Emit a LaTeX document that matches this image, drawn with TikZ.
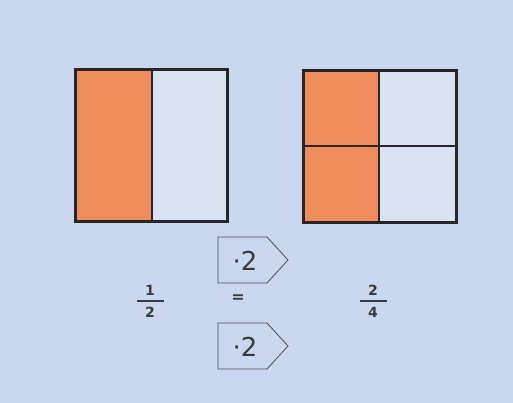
\documentclass[tikz,border=0pt]{standalone}
\usepackage{fontspec}
\setmainfont{DejaVu Sans}
\definecolor{bg}{HTML}{C9D8EE}
\definecolor{light}{HTML}{D8E2F2}
\definecolor{orng}{HTML}{EE8C5C}
\definecolor{frame}{HTML}{262626}
\definecolor{txt}{HTML}{3A3A3A}
\tikzset{
  sq/.style={draw=frame, line width=3pt},
  divider/.style={draw=frame, line width=1.2pt},
  digit/.style={inner sep=0pt, text=txt, font=\bfseries\fontsize{14}{14}\selectfont},
  opbox/.style={draw=black!70, line width=0.8pt, fill=bg},
  optext/.style={inner sep=0pt, text=txt, font=\fontsize{26}{26}\selectfont},
  fracbar/.style={draw=txt, line width=1.2pt}
}
\begin{document}
\begin{tikzpicture}[x=1pt,y=-1pt]
\useasboundingbox (0,0) rectangle (513,403);
\fill[bg] (0,0) rectangle (513,403);
% left square
\fill[light] (75,70) rectangle (227,221);
\fill[orng] (75,70) rectangle (152,221);
\draw[divider] (152,70) -- (152,221);
\draw[sq] (75,70) rectangle (227,221);
% right square
\fill[light] (303,71) rectangle (456,222);
\fill[orng] (303,71) rectangle (379,222);
\draw[divider] (379,71) -- (379,222);
\draw[divider] (303,146) -- (456,146);
\draw[sq] (303,71) rectangle (456,222);
% operator boxes
\draw[opbox] (218,237) -- (267,237) -- (288,260) -- (267,283) -- (218,283) -- cycle;
\node[optext] (op1) at (245,261) {·2};
\draw[opbox] (218,323) -- (267,323) -- (288,346) -- (267,369) -- (218,369) -- cycle;
\node[optext] (op2) at (245,347) {·2};
% fractions
\node[digit] (n1) at (150,290) {1};
\node[digit] (d1) at (150,312) {2};
\draw[fracbar] (137,301) -- (164,301);
\node[digit, font=\bfseries\fontsize{16}{16}\selectfont] (eq) at (238,299) {=};
\node[digit] (n2) at (373,290) {2};
\node[digit] (d2) at (373,312) {4};
\draw[fracbar] (360,301) -- (387,301);
\end{tikzpicture}
\end{document}
